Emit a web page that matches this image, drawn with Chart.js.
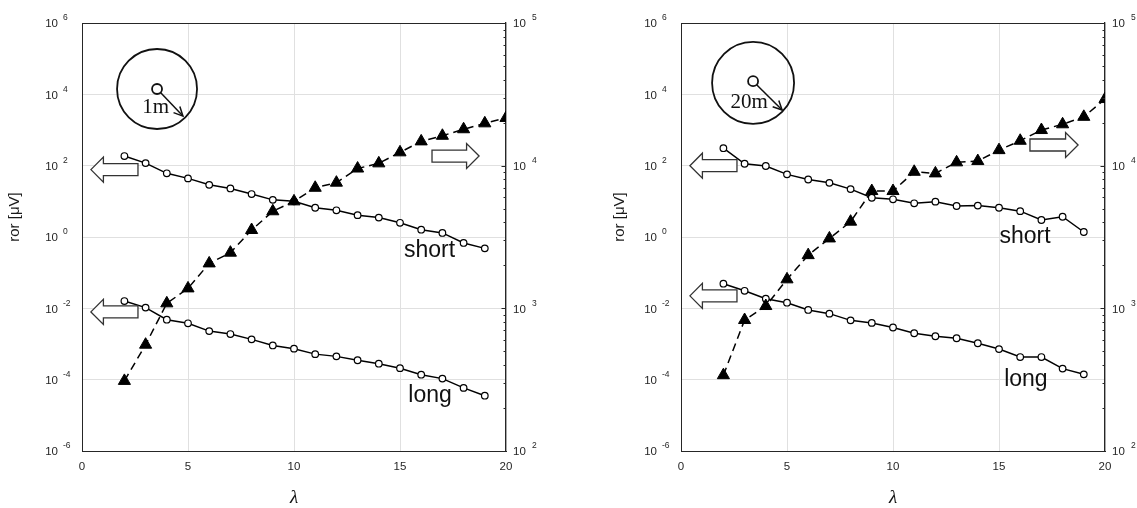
<!DOCTYPE html>
<html><head><meta charset="utf-8">
<script src="https://cdn.jsdelivr.net/npm/chart.js@4/dist/chart.umd.min.js"></script>
<style>
html,body{margin:0;padding:0;background:#fff;}
#wrap{position:relative;width:1137px;height:508px;overflow:hidden;background:#fff;}
canvas{position:absolute;top:0;}
</style></head><body>
<div id="wrap">
<canvas id="c1" width="538" height="508" style="left:0px"></canvas>
<canvas id="c2" width="538" height="508" style="left:599px"></canvas>
</div>
<script>
// ---------- data ----------
const lambdaCircles = [2,3,4,5,6,7,8,9,10,11,12,13,14,15,16,17,18,19];
const lambdaTriangles = [2,3,4,5,6,7,8,9,10,11,12,13,14,15,16,17,18,19,20];
const xTickValues = [0,5,10,15,20];
const leftDecades = [-6,-4,-2,0,2,4,6];
const rightDecades = [2,3,4,5];
const yTitle = 'ror [μV]';
const xTitle = 'λ';
const curveNames = ['short','long'];
const radiusLabels = ['1m','20m'];

// left panel (1 m)
const short1m = [186,118,61,44,29,23,16,11,10,6.6,5.6,4.1,3.5,2.5,1.6,1.3,0.68,0.48];
const long1m  = [0.016,0.0105,0.0048,0.0038,0.0023,0.0019,0.00135,0.00091,0.00074,0.00052,0.00045,0.00035,0.00028,0.00021,0.000138,0.000107,0.0000588,0.0000355];
const tri1m   = [310,556,1084,1380,2065,2455,3540,4790,5620,7000,7600,9550,10380,12400,14800,16200,18000,19800,21600];

// right panel (20 m)
const short20m = [309,113,98,57,41,33,22,12.6,11.4,8.8,9.8,7.4,7.6,6.6,5.3,3.0,3.7,1.38];
const long20m  = [0.049,0.031,0.0186,0.0144,0.0090,0.0071,0.0046,0.0039,0.0029,0.0020,0.00165,0.00145,0.00105,0.00072,0.00043,0.00043,0.000204,0.000141];
const tri20m   = [340,828,1038,1597,2360,3090,4050,6640,6640,9060,8830,10550,10770,12850,14950,17770,19500,22000,29300];

// ---------- annotation placement (data units: x = λ, e = log10 on left axis) ----------
const deco1m = {
  ring:{x:3.54,e:4.15,r:40}, hub:{x:3.54,e:4.15,r:5}, tip:{x:4.76,e:3.39},
  rad:{x:3.47,e:3.48,text:radiusLabels[0]},
  leftArrows:[{x0:0.42,x1:2.64,e:1.89},{x0:0.42,x1:2.64,e:-2.10}],
  rightArrow:{x0:16.51,x1:18.73,e:2.27},
  shortLbl:{x:16.39,e:-0.56}, longLbl:{x:16.42,e:-4.63}, titleX:15
};
const deco20m = {
  ring:{x:3.40,e:4.32,r:41}, hub:{x:3.40,e:4.37,r:5}, tip:{x:4.77,e:3.56},
  rad:{x:3.21,e:3.62,text:radiusLabels[1]},
  leftArrows:[{x0:0.42,x1:2.64,e:2.0},{x0:0.42,x1:2.64,e:-1.65}],
  rightArrow:{x0:16.46,x1:18.73,e:2.58},
  shortLbl:{x:16.23,e:-0.17}, longLbl:{x:16.27,e:-4.19}, titleX:21
};

const FONT = '"Liberation Sans", Arial, sans-serif';
const TXT = '#262626';

function rightTicks(){
  const t=[];
  for(let i=0;i<rightDecades.length;i++){
    const d=rightDecades[i];
    if(i===rightDecades.length-1){t.push(10**d);break;}
    for(let k=1;k<=9;k++) t.push(k*10**d);
  }
  return t;
}

function makePlugin(d){
  return {
    id:'deco',
    afterDatasetsDraw(chart){
      const ctx=chart.ctx, xs=chart.scales.x, ys=chart.scales.y;
      const px=v=>xs.getPixelForValue(v), py=e=>ys.getPixelForValue(10**e);
      ctx.save();
      // ring
      ctx.strokeStyle='#111'; ctx.lineWidth=1.8;
      ctx.beginPath(); ctx.arc(px(d.ring.x),py(d.ring.e),d.ring.r,0,Math.PI*2); ctx.stroke();
      const hx=px(d.hub.x), hy=py(d.hub.e);
      ctx.beginPath(); ctx.arc(hx,hy,d.hub.r,0,Math.PI*2); ctx.stroke();
      // pointer
      const tx=px(d.tip.x), ty=py(d.tip.e);
      const ang=Math.atan2(ty-hy,tx-hx);
      ctx.lineWidth=1.5;
      ctx.beginPath(); ctx.moveTo(hx+Math.cos(ang)*d.hub.r,hy+Math.sin(ang)*d.hub.r); ctx.lineTo(tx,ty); ctx.stroke();
      const hl=10, ha=0.45;
      ctx.beginPath();
      ctx.moveTo(tx-Math.cos(ang-ha)*hl,ty-Math.sin(ang-ha)*hl); ctx.lineTo(tx,ty);
      ctx.lineTo(tx-Math.cos(ang+ha)*hl,ty-Math.sin(ang+ha)*hl); ctx.stroke();
      ctx.fillStyle='#111'; ctx.font='21px "Liberation Serif", "Times New Roman", serif';
      ctx.textAlign='center'; ctx.textBaseline='alphabetic';
      ctx.fillText(d.rad.text,px(d.rad.x),py(d.rad.e));
      // hollow arrows
      const arrow=(x0,x1,e,dir)=>{
        const a=px(x0), b=px(x1), y=py(e);
        const headLen=12.5, headH=25, bodyH=12;
        ctx.beginPath();
        if(dir<0){
          ctx.moveTo(a,y); ctx.lineTo(a+headLen,y-headH/2); ctx.lineTo(a+headLen,y-bodyH/2);
          ctx.lineTo(b,y-bodyH/2); ctx.lineTo(b,y+bodyH/2); ctx.lineTo(a+headLen,y+bodyH/2);
          ctx.lineTo(a+headLen,y+headH/2);
        } else {
          ctx.moveTo(b,y); ctx.lineTo(b-headLen,y-headH/2); ctx.lineTo(b-headLen,y-bodyH/2);
          ctx.lineTo(a,y-bodyH/2); ctx.lineTo(a,y+bodyH/2); ctx.lineTo(b-headLen,y+bodyH/2);
          ctx.lineTo(b-headLen,y+headH/2);
        }
        ctx.closePath(); ctx.fillStyle='#fff'; ctx.fill();
        ctx.strokeStyle='#333'; ctx.lineWidth=1.3; ctx.stroke();
      };
      d.leftArrows.forEach(o=>arrow(o.x0,o.x1,o.e,-1));
      arrow(d.rightArrow.x0,d.rightArrow.x1,d.rightArrow.e,1);
      // curve labels
      ctx.fillStyle='#111'; ctx.font='23px '+FONT; ctx.textAlign='center'; ctx.textBaseline='alphabetic';
      ctx.fillText(curveNames[0],px(d.shortLbl.x),py(d.shortLbl.e));
      ctx.fillText(curveNames[1],px(d.longLbl.x),py(d.longLbl.e));
      ctx.restore();
    },
    afterDraw(chart){
      const ctx=chart.ctx, ca=chart.chartArea, ys=chart.scales.y, y1=chart.scales.y1;
      ctx.save();
      // frame top
      ctx.strokeStyle='#262626'; ctx.lineWidth=1;
      ctx.beginPath(); ctx.moveTo(ca.left,ca.top+0.5); ctx.lineTo(ca.right,ca.top+0.5); ctx.stroke();
      // inward ticks on right axis
      y1.ticks.forEach(t=>{
        const y=Math.round(y1.getPixelForValue(t.value))+0.5;
        const major=Math.abs(Math.log10(t.value)-Math.round(Math.log10(t.value)))<1e-9;
        const len=major?4.5:2.5;
        ctx.beginPath(); ctx.moveTo(ca.right-len,y); ctx.lineTo(ca.right,y); ctx.stroke();
      });
      // left tick labels
      ctx.fillStyle=TXT;
      leftDecades.forEach(e=>{
        const y=ys.getPixelForValue(10**e);
        ctx.font='11.5px '+FONT; ctx.textAlign='right'; ctx.textBaseline='middle';
        ctx.fillText('10',ca.left-24,y+1);
        ctx.font='8.5px '+FONT; ctx.textAlign='left';
        ctx.fillText(String(e),ca.left-19,y-5);
      });
      // right tick labels
      rightDecades.forEach(e=>{
        const y=y1.getPixelForValue(10**e);
        ctx.font='11.5px '+FONT; ctx.textAlign='left'; ctx.textBaseline='middle';
        ctx.fillText('10',ca.right+7,y+1);
        ctx.font='8.5px '+FONT;
        ctx.fillText(String(e),ca.right+26,y-5);
      });
      // y title (rotated)
      ctx.font='15px '+FONT; ctx.fillStyle='#1a1a1a';
      ctx.translate(d.titleX,217); ctx.rotate(-Math.PI/2);
      ctx.textAlign='center'; ctx.textBaseline='middle';
      ctx.fillText(yTitle,0,0);
      ctx.setTransform(1,0,0,1,0,0);
      // x title
      ctx.font='italic 19px "Liberation Serif", "DejaVu Serif", serif'; ctx.fillStyle='#111';
      ctx.textAlign='center'; ctx.textBaseline='middle';
      ctx.fillText(xTitle,(ca.left+ca.right)/2,498);
      ctx.restore();
    }
  };
}

function build(id, shortV, longV, triV, deco){
  const pts=(xs,ys)=>xs.map((x,i)=>({x:x,y:ys[i]}));
  return new Chart(document.getElementById(id),{
    type:'line',
    data:{datasets:[
      {label:'triangles',data:pts(lambdaTriangles,triV),yAxisID:'y1',order:0,
       borderColor:'#000',borderWidth:1.5,borderDash:[8,5],fill:false,tension:0,
       pointStyle:'triangle',pointRadius:7,pointBackgroundColor:'#000',pointBorderColor:'#000',pointBorderWidth:1},
      {label:curveNames[0],data:pts(lambdaCircles,shortV),yAxisID:'y',order:1,
       borderColor:'#000',borderWidth:1.5,fill:false,tension:0,
       pointStyle:'circle',pointRadius:3.3,pointBackgroundColor:'#fff',pointBorderColor:'#000',pointBorderWidth:1.2},
      {label:curveNames[1],data:pts(lambdaCircles,longV),yAxisID:'y',order:2,
       borderColor:'#000',borderWidth:1.5,fill:false,tension:0,
       pointStyle:'circle',pointRadius:3.3,pointBackgroundColor:'#fff',pointBorderColor:'#000',pointBorderWidth:1.2}
    ]},
    options:{
      responsive:false, animation:false, devicePixelRatio:1,
      layout:{padding:{top:23,left:0,right:0,bottom:0}},
      plugins:{legend:{display:false},title:{display:false},tooltip:{enabled:false}},
      scales:{
        x:{type:'linear',min:0,max:20,
           afterBuildTicks:s=>{s.ticks=xTickValues.map(v=>({value:v}));},
           afterFit:s=>{s.height=57;},
           grid:{color:'#e0e0e0',lineWidth:1,drawTicks:false},
           border:{color:'#262626',width:1},
           ticks:{padding:9,maxRotation:0,color:TXT,font:{family:'Liberation Sans',size:11.5}}},
        y:{type:'logarithmic',position:'left',min:1e-6,max:1e6,
           afterBuildTicks:s=>{s.ticks=leftDecades.map(e=>({value:10**e}));},
           afterFit:s=>{s.width=82;},
           grid:{color:'#e0e0e0',lineWidth:1,drawTicks:false},
           border:{color:'#262626',width:1},
           ticks:{display:false}},
        y1:{type:'logarithmic',position:'right',min:100,max:1e5,
           afterBuildTicks:s=>{s.ticks=rightTicks().map(v=>({value:v}));},
           afterFit:s=>{s.width=32;},
           grid:{drawOnChartArea:false,drawTicks:false},
           border:{color:'#262626',width:1.3},
           ticks:{display:false}}
      }
    },
    plugins:[makePlugin(deco)]
  });
}

build('c1',short1m,long1m,tri1m,deco1m);
build('c2',short20m,long20m,tri20m,deco20m);
</script>
</body></html>
